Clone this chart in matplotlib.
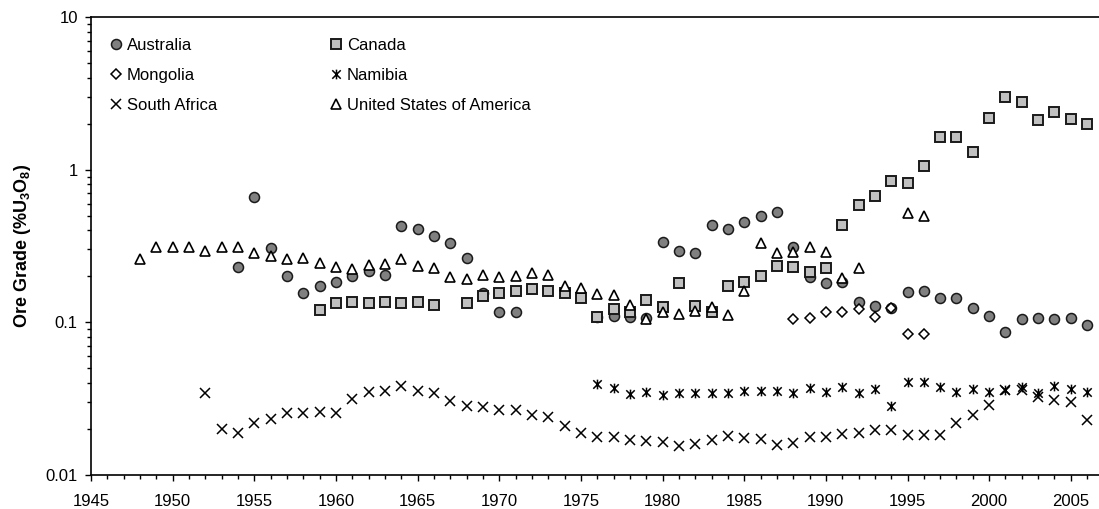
import matplotlib
matplotlib.use('Agg')
import matplotlib.pyplot as plt
from matplotlib.path import Path
from matplotlib.ticker import FixedLocator, MultipleLocator, FuncFormatter, NullFormatter
import numpy as np

plt.rcParams['font.family'] = ['Liberation Sans', 'DejaVu Sans']
plt.rcParams['mathtext.fontset'] = 'custom'
plt.rcParams['mathtext.rm'] = 'Liberation Sans'
plt.rcParams['mathtext.bf'] = 'Liberation Sans:bold'

# region Data (% U3O8)
AUS_YEARS = [1954, 1955, 1956, 1957, 1958, 1959, 1960, 1961, 1962, 1963, 1964, 1965, 1966, 1967, 1968,
             1969, 1970, 1971, 1976, 1977, 1978, 1979, 1980, 1981, 1982, 1983, 1984, 1985, 1986, 1987,
             1988, 1989, 1990, 1991, 1992, 1993, 1994, 1995, 1996, 1997, 1998, 1999, 2000, 2001, 2002,
             2003, 2004, 2005, 2006]
AUS_GRADE = [0.229, 0.665, 0.305, 0.201, 0.155, 0.174, 0.184, 0.201, 0.218, 0.204, 0.429, 0.406, 0.370,
             0.329, 0.265, 0.156, 0.117, 0.117, 0.109, 0.110, 0.109, 0.106, 0.337, 0.295, 0.283, 0.434,
             0.406, 0.452, 0.497, 0.529, 0.313, 0.199, 0.181, 0.184, 0.135, 0.128, 0.125, 0.157, 0.160,
             0.145, 0.145, 0.125, 0.110, 0.087, 0.1045, 0.106, 0.105, 0.106, 0.096]

CAN_YEARS = [1959, 1960, 1961, 1962, 1963, 1964, 1965, 1966, 1968, 1969, 1970, 1971, 1972, 1973, 1974,
             1975, 1976, 1977, 1978, 1979, 1980, 1981, 1982, 1983, 1984, 1985, 1986, 1987, 1988, 1989,
             1990, 1991, 1992, 1993, 1994, 1995, 1996, 1997, 1998, 1999, 2000, 2001, 2002, 2003, 2004,
             2005, 2006]
CAN_GRADE = [0.120, 0.133, 0.135, 0.133, 0.135, 0.134, 0.136, 0.130, 0.133, 0.149, 0.156, 0.160, 0.165,
             0.161, 0.155, 0.145, 0.108, 0.123, 0.116, 0.140, 0.126, 0.180, 0.128, 0.117, 0.174, 0.183,
             0.202, 0.234, 0.232, 0.215, 0.226, 0.432, 0.586, 0.67, 0.842, 0.82, 1.06, 1.643, 1.643,
             1.30, 2.186, 3.0, 2.76, 2.11, 2.38, 2.15, 2.0]

MON_YEARS = [1988, 1989, 1990, 1991, 1992, 1993, 1994, 1995, 1996]
MON_GRADE = [0.105, 0.107, 0.117, 0.117, 0.122, 0.108, 0.125, 0.0838, 0.0838]

NAM_YEARS = list(range(1976, 2007))
NAM_GRADE = [0.0394, 0.0370, 0.0339, 0.0351, 0.0334, 0.0346, 0.0343, 0.0346, 0.0343, 0.0356, 0.0355,
             0.0355, 0.0346, 0.0372, 0.0351, 0.0379, 0.0346, 0.0365, 0.0284, 0.0405, 0.0408, 0.0379,
             0.0351, 0.0366, 0.0351, 0.0360, 0.0379, 0.0346, 0.0382, 0.0365, 0.0351]

RSA_YEARS = list(range(1952, 2007))
RSA_GRADE = [0.0343, 0.0200, 0.0188, 0.0218, 0.0234, 0.0254, 0.0254, 0.0257, 0.0254, 0.0316, 0.0351,
             0.0356, 0.0380, 0.0356, 0.0343, 0.0303, 0.0281, 0.0278, 0.0267, 0.0267, 0.0247, 0.0239,
             0.0210, 0.0188, 0.0178, 0.0178, 0.0169, 0.0166, 0.0165, 0.0155, 0.0160, 0.0169, 0.0180,
             0.0176, 0.0171, 0.0157, 0.0161, 0.0177, 0.0177, 0.0185, 0.0189, 0.0197, 0.0197, 0.0183,
             0.0183, 0.0183, 0.0220, 0.0246, 0.0286, 0.0360, 0.0363, 0.0323, 0.0310, 0.0299, 0.0230]

USA_YEARS = [1948, 1949, 1950, 1951, 1952, 1953, 1954, 1955, 1956, 1957, 1958, 1959, 1960, 1961, 1962,
             1963, 1964, 1965, 1966, 1967, 1968, 1969, 1970, 1971, 1972, 1973, 1974, 1975, 1976, 1977,
             1978, 1979, 1980, 1981, 1982, 1983, 1984, 1985, 1986, 1987, 1988, 1989, 1990, 1991, 1992,
             1995, 1996]
USA_GRADE = [0.259, 0.310, 0.313, 0.310, 0.293, 0.310, 0.310, 0.283, 0.274, 0.260, 0.265, 0.243, 0.232,
             0.224, 0.237, 0.241, 0.259, 0.234, 0.226, 0.199, 0.191, 0.204, 0.199, 0.201, 0.209, 0.204,
             0.173, 0.167, 0.153, 0.151, 0.129, 0.105, 0.116, 0.114, 0.119, 0.126, 0.112, 0.160, 0.332,
             0.283, 0.287, 0.312, 0.290, 0.196, 0.228, 0.517, 0.497]

Y_TICKS = [0.01, 0.1, 1, 10]
# endregion

EDGE = '#1a1a1a'
ASTERISK = Path([(-1, -1), (1, 1), (-1, 1), (1, -1), (0, -1.15), (0, 1.15)],
                [Path.MOVETO, Path.LINETO, Path.MOVETO, Path.LINETO, Path.MOVETO, Path.LINETO])


def main():
    fig = plt.figure(figsize=(10.99, 5.09), dpi=100)
    # left spine at x=91px, 1945..2007.5 at 16.33 px/yr, right edge runs off the canvas like the source
    ax = fig.add_axes([91 / 1099, 34 / 509, (62.5 * 16.33) / 1099, 458 / 509])

    h_aus, = ax.plot(AUS_YEARS, AUS_GRADE, 'o', ms=7.2, mfc='#808080', mec=EDGE, mew=1.1, label='Australia')
    h_can, = ax.plot(CAN_YEARS, CAN_GRADE, 's', ms=6.6, mfc='#c0c0c0', mec=EDGE, mew=1.4, label='Canada')
    h_mon, = ax.plot(MON_YEARS, MON_GRADE, 'D', ms=4.7, mfc='white', mec='black', mew=1.1, label='Mongolia')
    h_nam, = ax.plot(NAM_YEARS, NAM_GRADE, ls='none', marker=ASTERISK, ms=7.0, mfc='none', mec='black',
                     mew=1.1, label='Namibia')
    h_rsa, = ax.plot(RSA_YEARS, RSA_GRADE, 'x', ms=7.0, mec='black', mew=1.1, label='South Africa')
    h_usa, = ax.plot(USA_YEARS, USA_GRADE, '^', ms=7.0, mfc='white', mec='black', mew=1.2,
                     label='United States of America')

    ax.set_yscale('log')
    ax.set_ylim(0.01, 10)
    ax.set_xlim(1945, 2007.5)

    ax.yaxis.set_major_locator(FixedLocator(Y_TICKS))
    ax.yaxis.set_major_formatter(FuncFormatter(lambda v, p: f'{v:g}'))
    ax.yaxis.set_minor_formatter(NullFormatter())
    ax.xaxis.set_major_locator(MultipleLocator(5))
    ax.xaxis.set_minor_locator(MultipleLocator(1))
    ax.xaxis.set_major_formatter(FuncFormatter(lambda v, p: f'{int(v)}'))

    ax.tick_params(which='major', direction='out', length=4.5, width=1.0, labelsize=12, pad=5, colors='black')
    ax.tick_params(which='minor', direction='out', length=3.0, width=1.0)
    ax.tick_params(axis='x', which='major', pad=9.5)
    for sp in ax.spines.values():
        sp.set_linewidth(1.2)
        sp.set_color('black')

    ax.set_ylabel(r'Ore Grade (%U$_\mathbf{3}$O$_\mathbf{8}$)', fontsize=13, fontweight='bold', labelpad=9)

    # matplotlib fills legend columns first, so reorder to read row by row
    handles = [h_aus, h_mon, h_rsa, h_can, h_nam, h_usa]
    ax.legend(handles=handles, labels=[h.get_label() for h in handles], ncol=2, frameon=False,
              loc='upper left', bbox_to_anchor=(20 / 1021, 1 - 21 / 458), borderaxespad=0,
              fontsize=12, handlelength=0.6, handletextpad=0.35, columnspacing=6.85,
              labelspacing=0.9, borderpad=0)

    fig.savefig('out.png', dpi=100)


if __name__ == '__main__':
    main()
